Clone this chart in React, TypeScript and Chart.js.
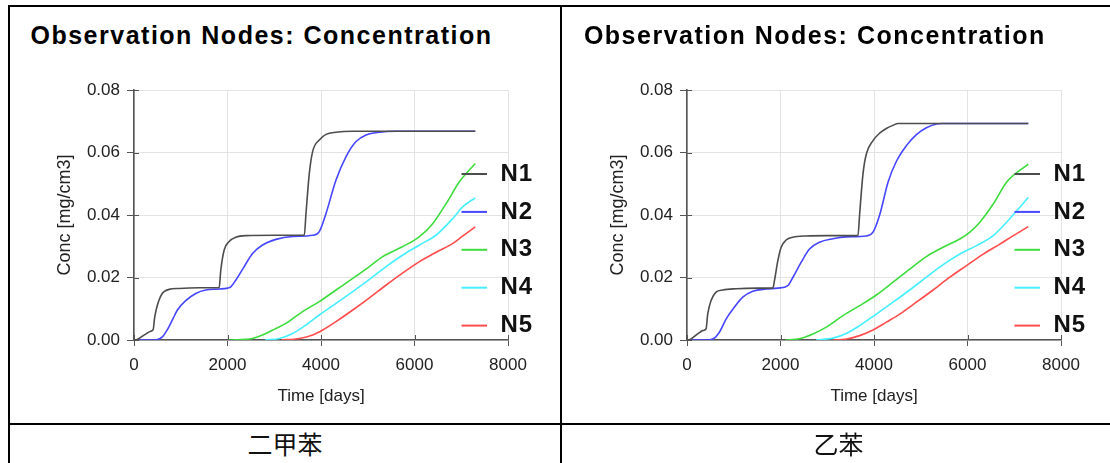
import React, { useEffect, useRef } from "react";
import { Chart, registerables } from "chart.js";

Chart.register(...registerables);

// ---------- texts ----------
const chartTitle = "Observation Nodes: Concentration";
const xAxisTitle = "Time [days]";
const yAxisTitle = "Conc [mg/cm3]";
const captions = ["二甲苯", "乙苯"];

// ---------- series meta ----------
const seriesNames = ["N1", "N2", "N3", "N4", "N5"];
const seriesColors = ["#4d4d4d", "#4646ff", "#3ddc3d", "#45efff", "#ff4c4c"];

// ---------- ticks ----------
const xTickValues = [0, 2000, 4000, 6000, 8000];
const yTickValues = [0, 0.02, 0.04, 0.06, 0.08];

// ---------- data: [day, conc] ----------
// 二甲苯 (xylene)
const xyleneN1 = [
  [0, 0], [70, 0.0002], [250, 0.0019], [357, 0.0028], [410, 0.0033], [440, 0.007],
  [480, 0.0100], [536, 0.0128], [600, 0.0148], [643, 0.0155], [750, 0.0162], [964, 0.0165],
  [1400, 0.0167], [1821, 0.0167], [1857, 0.0224], [1929, 0.0288], [2036, 0.0315],
  [2179, 0.0329], [2393, 0.0334], [3000, 0.0335], [3643, 0.0335], [3679, 0.0405],
  [3750, 0.0533], [3821, 0.0603], [3964, 0.064], [4107, 0.0658], [4321, 0.0665],
  [4679, 0.0668], [6000, 0.0668], [7300, 0.0668],
];
const xyleneN2 = [
  [0, 0], [464, 0], [607, 0.001], [680, 0.0025], [750, 0.0043], [840, 0.007], [929, 0.0096],
  [1107, 0.0126], [1321, 0.0149], [1536, 0.016], [1821, 0.0163], [2000, 0.0166],
  [2071, 0.017], [2179, 0.0192], [2357, 0.0235], [2536, 0.0277], [2750, 0.0304],
  [3036, 0.0322], [3393, 0.0331], [3821, 0.0335], [3964, 0.0347], [4107, 0.0405],
  [4321, 0.0512], [4536, 0.0587], [4750, 0.0635], [4964, 0.0656], [5250, 0.0665],
  [5607, 0.0668], [7300, 0.0668],
];
const xyleneN3 = [
  [2036, 0], [2536, 0.0005], [2750, 0.0016], [3036, 0.0037], [3250, 0.0053], [3607, 0.0091],
  [3964, 0.0123], [4321, 0.016], [4679, 0.0197], [5036, 0.0235], [5321, 0.0267],
  [5750, 0.0299], [6107, 0.0331], [6393, 0.0373], [6679, 0.0437], [6964, 0.0507], [7300, 0.0565],
];
const xyleneN4 = [
  [2800, 0], [3107, 0.0005], [3393, 0.0021], [3679, 0.0048], [3964, 0.008], [4321, 0.0117],
  [4679, 0.0155], [5036, 0.0194], [5393, 0.0235], [5750, 0.0272], [6107, 0.0304],
  [6464, 0.0336], [6821, 0.0389], [7036, 0.0427], [7300, 0.0455],
];
const xyleneN5 = [
  [3150, 0], [3536, 0.0005], [3821, 0.0016], [4036, 0.0032], [4321, 0.0059], [4679, 0.0096],
  [5036, 0.0135], [5393, 0.0176], [5750, 0.0215], [6107, 0.0251], [6464, 0.0281],
  [6821, 0.0309], [7036, 0.0333], [7300, 0.0362],
];

// 乙苯 (ethylbenzene)
const ethylN1 = [
  [0, 0], [71, 0.0002], [250, 0.0022], [336, 0.003], [407, 0.0035], [443, 0.0083],
  [514, 0.0126], [621, 0.0153], [764, 0.016], [1050, 0.0164], [1500, 0.0166], [1836, 0.0166],
  [1871, 0.019], [1943, 0.0254], [2014, 0.0297], [2121, 0.032], [2264, 0.0329],
  [2550, 0.0333], [3000, 0.0334], [3657, 0.0334], [3693, 0.0403], [3764, 0.0531],
  [3836, 0.0595], [3979, 0.0638], [4121, 0.0662], [4264, 0.0677], [4407, 0.0687],
  [4514, 0.0693], [5500, 0.0693], [7300, 0.0693],
];
const ethylN2 = [
  [0, 0], [400, 0], [550, 0.0003], [693, 0.0025], [836, 0.0067], [1014, 0.0105], [1193, 0.0137],
  [1407, 0.0156], [1693, 0.0163], [1943, 0.0166], [2157, 0.0174], [2264, 0.02],
  [2443, 0.0249], [2621, 0.0291], [2836, 0.0313], [3121, 0.0324], [3407, 0.033],
  [3836, 0.0333], [3979, 0.0345], [4121, 0.04], [4300, 0.0505], [4479, 0.0572],
  [4693, 0.0622], [4907, 0.0657], [5121, 0.0679], [5336, 0.0691], [5443, 0.0693], [7300, 0.0693],
];
const ethylN3 = [
  [2100, 0], [2407, 0.0004], [2693, 0.0019], [2979, 0.0041], [3336, 0.0078], [3693, 0.011],
  [4050, 0.0144], [4407, 0.0185], [4764, 0.0227], [5121, 0.0267], [5479, 0.0297],
  [5836, 0.0323], [6050, 0.0345], [6264, 0.0377], [6550, 0.0435], [6836, 0.0505], [7300, 0.0563],
];
const ethylN4 = [
  [2760, 0], [3121, 0.0006], [3407, 0.0021], [3693, 0.0046], [4050, 0.0083], [4407, 0.0121],
  [4764, 0.016], [5121, 0.0201], [5479, 0.0241], [5836, 0.0275], [6193, 0.0302],
  [6550, 0.0334], [6836, 0.0377], [7086, 0.0419], [7300, 0.0457],
];
const ethylN5 = [
  [3120, 0], [3407, 0.0003], [3693, 0.0014], [3979, 0.0032], [4264, 0.0057], [4550, 0.0083],
  [4907, 0.0121], [5264, 0.016], [5621, 0.0201], [5979, 0.0238], [6336, 0.0275],
  [6693, 0.0307], [6979, 0.0334], [7300, 0.0363],
];

const panels = [
  { caption: captions[0], series: [xyleneN1, xyleneN2, xyleneN3, xyleneN4, xyleneN5] },
  { caption: captions[1], series: [ethylN1, ethylN2, ethylN3, ethylN4, ethylN5] },
];

const FONT = "'Liberation Sans', Arial, Helvetica, sans-serif";
const AXIS_COLOR = "#555555";
const LABEL_COLOR = "#222222";

const nodeLegendPlugin = {
  id: "nodeLegend",
  afterDraw(chart: any) {
    const { ctx, chartArea } = chart;
    ctx.save();
    chart.data.datasets.forEach((ds: any, i: number) => {
      const y = chartArea.top + 84 + i * 37.9;
      ctx.strokeStyle = ds.borderColor;
      ctx.lineWidth = 2;
      ctx.beginPath();
      ctx.moveTo(chartArea.left + 327.5, y);
      ctx.lineTo(chartArea.left + 353, y);
      ctx.stroke();
      ctx.fillStyle = "#111111";
      ctx.font = `bold 24px ${FONT}`;
      ctx.textBaseline = "middle";
      ctx.textAlign = "left";
      try { (ctx as any).letterSpacing = "1px"; } catch (e) {}
      ctx.fillText(ds.label, chartArea.left + 366.5, y);
    });
    ctx.restore();
  },
};

const innerTicksPlugin = {
  id: "innerTicks",
  beforeDatasetsDraw(chart: any) {
    const { ctx, chartArea, scales } = chart;
    ctx.save();
    ctx.strokeStyle = AXIS_COLOR;
    ctx.lineWidth = 1;
    ctx.beginPath();
    scales.x.ticks.forEach((t: any) => {
      const px = Math.round(scales.x.getPixelForValue(t.value)) + 0.5;
      ctx.moveTo(px, chartArea.bottom);
      ctx.lineTo(px, chartArea.bottom - 5);
    });
    scales.y.ticks.forEach((t: any) => {
      const py = Math.round(scales.y.getPixelForValue(t.value)) + 0.5;
      ctx.moveTo(chartArea.left, py);
      ctx.lineTo(chartArea.left + 5, py);
    });
    ctx.stroke();
    ctx.restore();
  },
};

function ConcChart({ series }: { series: number[][][] }) {
  const ref = useRef<HTMLCanvasElement>(null);
  useEffect(() => {
    if (!ref.current) return;
    const chart = new Chart(ref.current, {
      type: "line",
      data: {
        datasets: series.map((pts, i) => ({
          label: seriesNames[i],
          data: pts.map(([x, y]) => ({ x, y })),
          borderColor: seriesColors[i],
          backgroundColor: seriesColors[i],
          borderWidth: 1.6,
          pointRadius: 0,
          cubicInterpolationMode: "monotone" as const,
          fill: false,
        })),
      },
      options: {
        animation: false,
        responsive: false,
        events: [],
        layout: { padding: { top: 30, right: 47, left: 0, bottom: 0 } },
        plugins: {
          legend: { display: false },
          tooltip: { enabled: false },
          title: { display: false },
        },
        scales: {
          x: {
            type: "linear",
            min: 0,
            max: 8000,
            afterBuildTicks: (s: any) => {
              s.ticks = xTickValues.map((v) => ({ value: v }));
            },
            afterFit: (s: any) => {
              s.height = 80;
            },
            ticks: {
              color: LABEL_COLOR,
              font: { family: FONT, size: 17 },
              padding: 9,
              maxRotation: 0,
              callback: (v: any) => String(v),
            },
            grid: {
              color: "#e3e3e3",
              lineWidth: 1,
              tickColor: AXIS_COLOR,
              tickLength: 6,
              tickWidth: 1,
            },
            border: { color: AXIS_COLOR, width: 1.6 },
            title: {
              display: true,
              text: xAxisTitle,
              color: LABEL_COLOR,
              font: { family: FONT, size: 17 },
              padding: { top: 0, bottom: 13.8 },
            },
          },
          y: {
            type: "linear",
            min: 0,
            max: 0.08,
            afterBuildTicks: (s: any) => {
              s.ticks = yTickValues.map((v) => ({ value: v }));
            },
            afterFit: (s: any) => {
              s.width = 124;
            },
            ticks: {
              color: LABEL_COLOR,
              font: { family: FONT, size: 17 },
              padding: 7,
              callback: (v: any) => Number(v).toFixed(2),
            },
            grid: {
              color: "#e3e3e3",
              lineWidth: 1,
              tickColor: AXIS_COLOR,
              tickLength: 7,
              tickWidth: 1,
            },
            border: { color: AXIS_COLOR, width: 1.6 },
            title: {
              display: true,
              text: yAxisTitle,
              color: LABEL_COLOR,
              font: { family: FONT, size: 18 },
              padding: { top: 44.7, bottom: 0 },
            },
          },
        },
      } as any,
      plugins: [innerTicksPlugin, nodeLegendPlugin],
    });
    return () => chart.destroy();
  }, [series]);
  return (
    <canvas
      ref={ref}
      width={545}
      height={360}
      style={{ position: "absolute", left: 10, top: 60, width: 545, height: 360 }}
    />
  );
}

export default function App() {
  const line: React.CSSProperties = { position: "absolute", background: "#000" };
  return (
    <div
      style={{
        position: "absolute",
        left: 0,
        top: 0,
        width: 1110,
        height: 463,
        overflow: "hidden",
        background: "#fff",
      }}
    >
      {panels.map((p, idx) => {
        const base = idx * 553.4;
        return (
          <div key={idx} style={{ position: "absolute", left: base, top: 0, width: 560, height: 463 }}>
            <div
              style={{
                position: "absolute",
                left: 30.5,
                top: 23,
                fontFamily: FONT,
                fontWeight: "bold",
                fontSize: 25,
                lineHeight: "25px",
                letterSpacing: "1.5px",
                color: "#000",
                whiteSpace: "nowrap",
              }}
            >
              {chartTitle}
            </div>
            <ConcChart series={p.series} />
            <div
              style={{
                position: "absolute",
                left: 10,
                width: 550,
                top: 430,
                textAlign: "center",
                fontFamily: "'Noto Sans CJK SC', serif",
                fontSize: 25,
                lineHeight: "26px",
                color: "#111",
                whiteSpace: "nowrap",
              }}
            >
              {p.caption}
            </div>
          </div>
        );
      })}
      <div style={{ ...line, left: 8, top: 5, width: 1110, height: 2 }} />
      <div style={{ ...line, left: 8, top: 5, width: 2, height: 458 }} />
      <div style={{ ...line, left: 560, top: 5, width: 2, height: 458 }} />
      <div style={{ ...line, left: 8, top: 423, width: 1110, height: 2 }} />
    </div>
  );
}
